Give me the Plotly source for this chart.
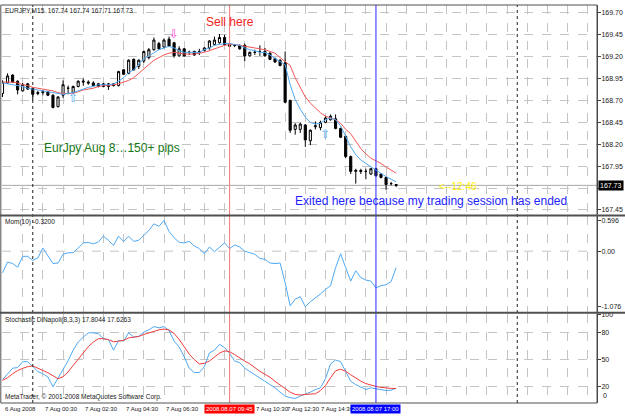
import pandas as pd
import plotly.graph_objects as go
from plotly.subplots import make_subplots

# ---------------- data (EURJPY M15, 6 Aug 22:30 -> 7 Aug 18:00) ----------------
bar_times = pd.date_range("2008-08-06 22:30", periods=79, freq="15min")

open_prices = [168.78, 168.90, 168.99, 168.92, 168.81, 168.89, 168.84, 168.78, 168.79, 168.80,
               168.76, 168.63, 168.76, 168.84, 168.79, 168.86, 168.91, 168.91, 168.90, 168.89,
               168.89, 168.89, 168.89, 168.87, 169.05, 169.01, 169.17, 169.09, 169.15, 169.19,
               169.28, 169.35, 169.31, 169.40, 169.36, 169.21, 169.29, 169.25, 169.26, 169.25,
               169.27, 169.30, 169.34, 169.36, 169.42, 169.35, 169.33, 169.33, 169.33, 169.21,
               169.25, 169.26, 169.26, 169.24, 169.18, 169.16, 169.13, 168.70, 168.37, 168.37,
               168.42, 168.24, 168.40, 168.39, 168.45, 168.48, 168.49, 168.38, 168.29, 168.06,
               167.89, 167.90, 167.89, 167.86, 167.92, 167.86, 167.82, 167.75, 167.74]
high_prices = [168.93, 169.01, 169.00, 168.93, 168.90, 168.90, 168.85, 168.81, 168.82, 168.81,
               168.77, 168.75, 168.93, 168.87, 168.87, 168.93, 168.95, 168.93, 168.92, 168.90,
               168.90, 168.90, 168.90, 169.04, 169.06, 169.17, 169.18, 169.17, 169.27, 169.30,
               169.42, 169.37, 169.41, 169.43, 169.37, 169.32, 169.30, 169.27, 169.27, 169.29,
               169.31, 169.39, 169.43, 169.46, 169.45, 169.36, 169.34, 169.34, 169.35, 169.26,
               169.28, 169.33, 169.30, 169.25, 169.19, 169.17, 169.26, 168.71, 168.44, 168.45,
               168.43, 168.37, 168.46, 168.47, 168.52, 168.54, 168.54, 168.39, 168.30, 168.07,
               167.92, 167.92, 167.92, 167.93, 167.93, 167.87, 167.83, 167.77, 167.74]
low_prices = [168.74, 168.89, 168.90, 168.77, 168.80, 168.82, 168.70, 168.76, 168.76, 168.75,
              168.61, 168.62, 168.73, 168.77, 168.78, 168.85, 168.87, 168.88, 168.87, 168.85,
              168.85, 168.82, 168.86, 168.86, 168.99, 169.00, 169.04, 169.06, 169.13, 169.17,
              169.27, 169.28, 169.30, 169.31, 169.19, 169.20, 169.20, 169.22, 169.21, 169.22,
              169.26, 169.28, 169.33, 169.35, 169.33, 169.31, 169.31, 169.28, 169.15, 169.20,
              169.22, 169.21, 169.20, 169.16, 169.13, 169.09, 168.67, 168.33, 168.31, 168.33,
              168.17, 168.19, 168.37, 168.36, 168.44, 168.47, 168.37, 168.27, 168.04, 167.86,
              167.75, 167.86, 167.80, 167.85, 167.83, 167.81, 167.68, 167.73, 167.71]
close_prices = [168.91, 168.98, 168.91, 168.82, 168.88, 168.83, 168.77, 168.79, 168.80, 168.76,
                168.62, 168.74, 168.88, 168.84, 168.86, 168.92, 168.92, 168.90, 168.87, 168.86,
                168.86, 168.86, 168.87, 169.03, 169.00, 169.16, 169.05, 169.16, 169.26, 169.28,
                169.39, 169.29, 169.39, 169.32, 169.21, 169.29, 169.21, 169.25, 169.22, 169.26,
                169.30, 169.38, 169.39, 169.42, 169.34, 169.32, 169.33, 169.29, 169.21, 169.25,
                169.25, 169.26, 169.21, 169.17, 169.14, 169.10, 168.68, 168.36, 168.42, 168.43,
                168.25, 168.36, 168.41, 168.45, 168.50, 168.52, 168.38, 168.28, 168.06, 167.89,
                167.90, 167.89, 167.89, 167.92, 167.84, 167.82, 167.74, 167.75, 167.73]

ma_fast = [168.90, 168.89, 168.88, 168.87, 168.86, 168.84, 168.83, 168.82, 168.81, 168.80,
           168.79, 168.78, 168.77, 168.78, 168.79, 168.81, 168.83, 168.85, 168.86, 168.88,
           168.88, 168.88, 168.89, 168.92, 168.96, 169.02, 169.05, 169.11, 169.18, 169.21,
           169.25, 169.28, 169.30, 169.32, 169.30, 169.27, 169.25, 169.25, 169.25, 169.25,
           169.28, 169.30, 169.33, 169.34, 169.35, 169.35, 169.34, 169.33, 169.30, 169.28,
           169.27, 169.25, 169.25, 169.22, 169.18, 169.14, 169.11, 168.88, 168.71, 168.60,
           168.51, 168.45, 168.43, 168.44, 168.48, 168.50, 168.48, 168.41, 168.29, 168.17,
           168.08, 168.02, 167.98, 167.94, 167.91, 167.87, 167.83, 167.80, 167.77]
ma_slow = [168.91, 168.91, 168.91, 168.90, 168.88, 168.87, 168.85, 168.84, 168.83, 168.82,
           168.81, 168.79, 168.78, 168.78, 168.78, 168.80, 168.82, 168.83, 168.84, 168.86,
           168.87, 168.87, 168.88, 168.89, 168.91, 168.93, 168.96, 169.01, 169.07, 169.11,
           169.16, 169.19, 169.22, 169.24, 169.25, 169.24, 169.23, 169.23, 169.23, 169.24,
           169.25, 169.27, 169.29, 169.31, 169.33, 169.34, 169.34, 169.33, 169.32, 169.31,
           169.30, 169.29, 169.28, 169.26, 169.24, 169.19, 169.15, 169.10, 168.96, 168.84,
           168.74, 168.67, 168.61, 168.56, 168.52, 168.50, 168.48, 168.44, 168.37, 168.32,
           168.23, 168.15, 168.09, 168.04, 168.01, 167.98, 167.94, 167.90, 167.87]

momentum = [-0.42, -0.21, -0.24, -0.31, -0.10, -0.10, -0.18, -0.13, 0.06, -0.08,
            -0.24, -0.23, -0.06, -0.03, -0.03, 0.06, 0.16, 0.17, 0.14, 0.18,
            0.29, 0.21, 0.11, 0.29, 0.19, 0.29, 0.19, 0.21, 0.31, 0.40,
            0.53, 0.48, 0.596, 0.38, 0.26, 0.17, 0.16, 0.19, 0.10, 0.05,
            -0.05, 0.08, -0.01, 0.08, 0.16, 0.05, 0.12, 0.08, 0.00, -0.03,
            -0.06, -0.14, -0.16, -0.23, -0.24, -0.23, -0.61, -1.06, -0.93, -0.88,
            -1.076, -0.98, -0.91, -0.83, -0.74, -0.67, -0.32, -0.05, -0.32, -0.58,
            -0.38, -0.51, -0.56, -0.58, -0.71, -0.67, -0.65, -0.59, -0.32]

stoch_main = [27.3, 33.9, 40.1, 40.7, 47.3, 47.3, 41.8, 36.4, 33.9, 30.3,
              19.4, 29.2, 38.2, 48.4, 60.0, 69.1, 74.5, 79.3, 79.3, 78.3,
              72.8, 71.7, 60.0, 70.9, 70.2, 79.3, 74.5, 75.3, 80.0, 82.6,
              86.2, 84.8, 86.2, 81.9, 70.2, 63.6, 52.7, 40.1, 35.3, 35.3,
              41.8, 57.1, 60.0, 66.6, 63.0, 56.4, 48.0, 46.2, 40.1, 36.4,
              32.8, 29.2, 25.5, 21.9, 18.3, 13.5, 9.1, 7.4, 6.6, 9.1,
              11.0, 13.5, 16.4, 18.3, 28.5, 44.8, 49.1, 47.3, 36.4, 25.5,
              21.9, 19.4, 16.4, 18.3, 17.2, 15.7, 15.3, 15.7, 17.8]
stoch_signal = [26.6, 29.5, 33.9, 37.5, 39.9, 41.8, 42.6, 40.1, 37.7, 35.0,
                31.7, 28.4, 30.6, 36.0, 43.1, 50.2, 57.3, 63.9, 69.1, 72.8,
                72.8, 71.7, 69.3, 70.1, 70.9, 73.7, 74.5, 75.3, 77.5, 79.3,
                81.3, 82.6, 83.5, 82.4, 78.6, 72.0, 63.9, 55.7, 49.7, 44.8,
                45.5, 48.0, 52.4, 56.8, 59.3, 58.4, 55.1, 51.3, 48.0, 44.8,
                40.4, 36.6, 33.3, 30.1, 25.5, 21.3, 17.5, 13.5, 11.0, 10.4,
                11.0, 11.3, 11.7, 15.3, 20.8, 29.5, 37.1, 39.0, 36.6, 32.8,
                29.0, 25.7, 23.0, 21.3, 19.9, 18.8, 18.0, 17.7, 17.63]

sell_signal_times = ["2008-08-07 07:00"]
sell_signal_prices = [169.45]
buy_signal_times = ["2008-08-07 02:00", "2008-08-07 14:30"]
buy_signal_prices = [168.72, 168.31]

sell_time = "2008-08-07 09:45"
exit_time = "2008-08-07 17:00"
day_separators = ["2008-08-07 00:00", "2008-08-08 00:00"]
bid_price = 167.73

price_ticks = [167.45, 167.70, 167.95, 168.20, 168.45, 168.70, 168.95, 169.20, 169.45, 169.70]
price_tick_text = ["167.45", "", "167.95", "168.20", "168.45", "168.70", "168.95", "169.20", "169.45", "169.70"]
mom_ticks = [0.596, 0.0, -1.076]
mom_tick_text = ["0.596", "0.00", "-1.076"]
stoch_ticks = [20, 50, 80, 100]
stoch_tick_text = ["20", "50", "80", "100"]

time_label_times = ["2008-08-06 22:30", "2008-08-07 00:30", "2008-08-07 02:30", "2008-08-07 04:30",
                    "2008-08-07 06:30", "2008-08-07 10:30", "2008-08-07 12:30", "2008-08-07 14:30"]
time_label_text = ["6 Aug 2008", "7 Aug 00:30", "7 Aug 02:30", "7 Aug 04:30", "7 Aug 06:30",
                   "7 Aug 10:30", "7 Aug 12:30", "7 Aug 14:30"]
# labels pushed clear of the highlighted event boxes (pixels)
time_label_shift = [0, 0, 0, 0, 0, 9, 0, -6]

# ---------------- figure ----------------
FONT = "Liberation Sans, Arial, sans-serif"
GRID = "#c4c4c4"
fig = make_subplots(rows=3, cols=1, shared_xaxes=True, vertical_spacing=0.005)

fig.add_trace(go.Candlestick(
    x=bar_times, open=open_prices, high=high_prices, low=low_prices, close=close_prices,
    increasing=dict(fillcolor="white", line=dict(color="black", width=1)),
    decreasing=dict(fillcolor="black", line=dict(color="black", width=1)),
    whiskerwidth=0, hoverinfo="skip", showlegend=False), row=1, col=1)
fig.add_trace(go.Scatter(x=bar_times, y=ma_slow, mode="lines",
                         line=dict(color="#f25555", width=1), showlegend=False), row=1, col=1)
fig.add_trace(go.Scatter(x=bar_times, y=ma_fast, mode="lines",
                         line=dict(color="#4fa8f2", width=1), showlegend=False), row=1, col=1)
fig.add_trace(go.Scatter(x=sell_signal_times, y=sell_signal_prices, mode="text", text=["⇩"] * len(sell_signal_times),
                         textfont=dict(color="#ff44dd", size=12, family="DejaVu Sans"), showlegend=False), row=1, col=1)
fig.add_trace(go.Scatter(x=buy_signal_times, y=buy_signal_prices, mode="text", text=["⇧"] * len(buy_signal_times),
                         textfont=dict(color="#55aaf5", size=12, family="DejaVu Sans"), showlegend=False), row=1, col=1)

fig.add_trace(go.Scatter(x=bar_times, y=momentum, mode="lines",
                         line=dict(color="#4fa8f2", width=1), showlegend=False), row=2, col=1)

fig.add_trace(go.Scatter(x=bar_times, y=stoch_main, mode="lines",
                         line=dict(color="#4fa8f2", width=1), showlegend=False), row=3, col=1)
fig.add_trace(go.Scatter(x=bar_times, y=stoch_signal, mode="lines",
                         line=dict(color="#f03c3c", width=1), showlegend=False), row=3, col=1)

x_range = ["2008-08-06 22:28:30", "2008-08-08 03:57:00"]
fig.update_xaxes(range=x_range, showticklabels=False, showgrid=True, gridcolor=GRID, griddash="dash",
                 gridwidth=1, tick0="2008-08-06 23:30", dtick=3600000, zeroline=False,
                 rangeslider_visible=False, showline=False, ticks="")

axis_common = dict(side="right", showline=True, linecolor="#404040", linewidth=1, ticks="outside",
                   ticklen=3, tickcolor="#404040", tickfont=dict(family=FONT, size=7, color="#202020"),
                   zeroline=False, ticklabelstandoff=-1)
fig.update_layout(
    yaxis=dict(domain=[0.4738, 1.0], range=[167.398, 169.791], tickvals=price_ticks, ticktext=price_tick_text,
               showgrid=True, gridcolor=GRID, griddash="dash", **axis_common),
    yaxis2=dict(domain=[0.2294, 0.4688], range=[-1.173, 0.673], tickvals=mom_ticks, ticktext=mom_tick_text,
                showgrid=False, **axis_common),
    yaxis3=dict(domain=[0.0, 0.2244], range=[1.5, 100.5], tickvals=stoch_ticks, ticktext=stoch_tick_text,
                showgrid=True, gridcolor=GRID, griddash="dash", **axis_common),
)

shapes = []
shapes.append(dict(type="line", xref="paper", x0=0, x1=1, yref="y2", y0=0, y1=0,
                   line=dict(color=GRID, width=1, dash="dash"), layer="below"))
shapes.append(dict(type="line", xref="paper", x0=0, x1=1, yref="y", y0=bid_price, y1=bid_price,
                   line=dict(color="#a8a8a8", width=1), layer="below"))
for t in day_separators:
    shapes.append(dict(type="line", xref="x", x0=t, x1=t, yref="paper", y0=0, y1=1,
                       line=dict(color="#202020", width=1, dash="dot")))
shapes.append(dict(type="line", xref="x", x0=sell_time, x1=sell_time, yref="paper", y0=0, y1=1,
                   line=dict(color="#f07878", width=1)))
shapes.append(dict(type="line", xref="x", x0=exit_time, x1=exit_time, yref="paper", y0=0, y1=1,
                   line=dict(color="#2a2aff", width=1)))
for yy in [0.4713, 0.2269]:
    shapes.append(dict(type="line", xref="paper", x0=-0.01, x1=1.05, yref="paper", y0=yy, y1=yy,
                       line=dict(color="#505050", width=2)))
shapes.append(dict(type="rect", xref="paper", x0=-0.002, x1=1.0, yref="paper", y0=0, y1=1.0,
                   line=dict(color="#505050", width=1)))
fig.update_layout(shapes=shapes)

ann = []
small = dict(family=FONT, size=6.5, color="#202020")
axis_small = dict(family=FONT, size=6, color="#202020")
ann.append(dict(text="EURJPY,M15  167.74 167.74 167.71 167.73", xref="paper", yref="paper", x=0.001, y=1.0,
                xanchor="left", yanchor="top", showarrow=False, font=small))
ann.append(dict(text="Mom(10) -0.3200", xref="paper", yref="paper", x=0.001, y=0.4688,
                xanchor="left", yanchor="top", showarrow=False, font=small))
ann.append(dict(text="Stochastic DiNapoli(8,3,3) 17.8044 17.6263", xref="paper", yref="paper", x=0.001, y=0.2244,
                xanchor="left", yanchor="top", showarrow=False, font=small))
ann.append(dict(text="MetaTrader, © 2001-2008 MetaQuotes Software Corp.", xref="paper", yref="paper", x=0.001, y=0.0,
                xanchor="left", yanchor="bottom", showarrow=False, font=small))
ann.append(dict(text="0", xref="paper", yref="paper", x=1.0, y=0.005, xanchor="left", yanchor="bottom",
                xshift=4, showarrow=False, font=dict(family=FONT, size=7, color="#202020")))

ann.append(dict(text="Sell here", xref="x", yref="y", x=sell_time, y=169.60, xanchor="center", yanchor="middle",
                showarrow=False, font=dict(family=FONT, size=12, color="#f01e1e")))
ann.append(dict(text="EurJpy Aug 8…150+ pips", xref="paper", yref="y", x=0.185, y=168.16, xanchor="center",
                yanchor="middle", showarrow=False, font=dict(family=FONT, size=12, color="#147814")))
ann.append(dict(text="Exited here because my trading session has ended", xref="paper", yref="y", x=0.7208, y=167.555,
                xanchor="center", yanchor="middle", showarrow=False, borderpad=0,
                font=dict(family=FONT, size=12, color="#1e1eff")))
ann.append(dict(text="<--12:46", xref="paper", yref="y", x=0.7667, y=167.715, xanchor="center", yanchor="middle",
                showarrow=False, borderpad=0, font=dict(family=FONT, size=10, color="#ffee00")))

for t, s, sh in zip(time_label_times, time_label_text, time_label_shift):
    ann.append(dict(text=s, xref="x", yref="paper", x=t, y=0, xanchor="left", yanchor="top", yshift=-1,
                    xshift=sh, showarrow=False, font=axis_small))
ann.append(dict(text="2008.08.07 09:45", xref="x", yref="paper", x=sell_time, y=0, xanchor="center", yanchor="top",
                yshift=-1, showarrow=False, bgcolor="#ff0000", borderpad=1,
                font=dict(family=FONT, size=6, color="white")))
ann.append(dict(text="2008.08.07 17:00", xref="x", yref="paper", x=exit_time, y=0, xanchor="center", yanchor="top",
                yshift=-1, showarrow=False, bgcolor="#0000ff", borderpad=1,
                font=dict(family=FONT, size=6, color="white")))
ann.append(dict(text="167.73", xref="paper", yref="y", x=1.0, y=bid_price, xanchor="left", yanchor="middle",
                xshift=1, showarrow=False, bgcolor="#000000", borderpad=1, font=dict(family=FONT, size=7, color="white")))

fig.update_layout(
    annotations=ann,
    width=625, height=417,
    margin=dict(l=2, r=23, t=2, b=14),
    paper_bgcolor="white", plot_bgcolor="white",
    boxgap=0.4,
    showlegend=False,
    font=dict(family=FONT),
)

fig.write_html("out.html")
